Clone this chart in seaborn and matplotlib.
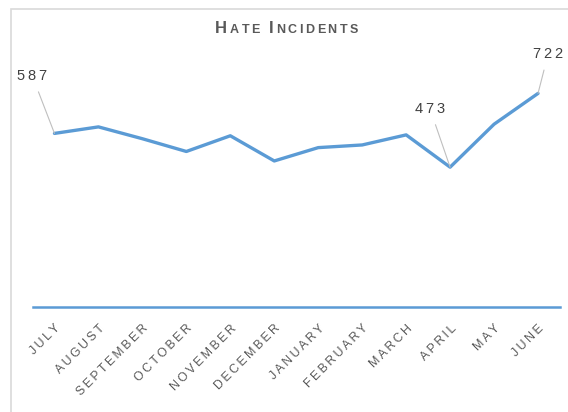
import matplotlib
matplotlib.use("Agg")
import matplotlib.pyplot as plt
import seaborn as sns
import pandas as pd
from matplotlib.patches import Rectangle

# Monthly hate incidents
months = ["JULY", "AUGUST", "SEPTEMBER", "OCTOBER", "NOVEMBER", "DECEMBER",
          "JANUARY", "FEBRUARY", "MARCH", "APRIL", "MAY", "JUNE"]
incidents = [587, 609, 569, 526, 579, 494, 539, 548, 582, 473, 618, 722]
labelled = {"JULY": (-22, 57), "APRIL": (-20, 58), "JUNE": (10, 39)}  # offsets in px

line_color = "#5B9BD5"
text_color = "#595959"

sns.set_theme(style="white")
plt.rcParams["font.family"] = ["Liberation Sans", "DejaVu Sans"]

df = pd.DataFrame({"month": months, "incidents": incidents, "pos": range(len(months))})

fig = plt.figure(figsize=(5.68, 4.12), dpi=100)
fig.patch.set_facecolor("white")
W, H = 568, 412

# light outer frame (right/bottom edges lie outside the crop)
fig.patches.append(Rectangle((11 / W, -0.1), 1.2, (H - 9) / H + 0.1,
                             transform=fig.transFigure, fill=False,
                             edgecolor="#D9D9D9", linewidth=1.2))

ax = fig.add_axes([32.5 / W, (H - 307.3) / H, 527.5 / W, 237 / H])
sns.lineplot(data=df, x="pos", y="incidents", ax=ax, color=line_color,
             linewidth=2.4, solid_capstyle="round")
ax.set_xlim(-0.5, len(months) - 0.5)
ax.set_ylim(0, 800)
ax.set_xlabel("")
ax.set_ylabel("")
ax.set_yticks([])
for s in ["top", "left", "right"]:
    ax.spines[s].set_visible(False)
ax.spines["bottom"].set_color(line_color)
ax.spines["bottom"].set_linewidth(1.8)

def spaced(s):
    return "\u2009".join(s)

ax.set_xticks(range(len(months)))
ax.set_xticklabels([spaced(m) for m in months], rotation=45, ha="right",
                   rotation_mode="anchor", fontsize=8.8, color=text_color)
ax.tick_params(axis="x", length=0, pad=11)

# data labels with leader lines
for m, (dx, dy) in labelled.items():
    i = months.index(m)
    ax.annotate(spaced(str(incidents[i])), xy=(i, incidents[i]),
                xytext=(dx * 0.72, dy * 0.72), textcoords="offset points",
                ha="center", va="center", fontsize=10.5, color="#404040",
                arrowprops=dict(arrowstyle="-", color="#BFBFBF", lw=0.8,
                                shrinkA=4, shrinkB=0))

# small-caps style title
def small_caps_title(text, x, y, big=12, small=9):
    renderer = fig.canvas.get_renderer()
    pieces = []
    cur = x
    for word_i, word in enumerate(text.split(" ")):
        if word_i > 0:
            word = " " + word
        for j, ch in enumerate(word):
            first = (j == 0 and word_i == 0) or (j == 1 and word_i > 0)
            size = big if first else small
            t = fig.text(cur / W, 1 - y / H, ch + "\u2009", fontsize=size,
                         fontweight="bold", color=text_color,
                         ha="left", va="baseline")
            ext = t.get_window_extent(renderer)
            cur += ext.width
            pieces.append(t)
    total = cur - x
    for t in pieces:
        px, py = t.get_position()
        t.set_position((px - total / 2 / W, py))

small_caps_title("HATE INCIDENTS", 288, 33)

fig.savefig("out.png", dpi=100, facecolor="white")
